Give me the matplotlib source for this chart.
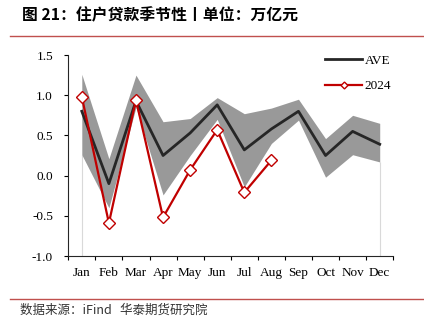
import numpy as np
import matplotlib
matplotlib.use("Agg")
import matplotlib.pyplot as plt
from matplotlib.lines import Line2D

months = ['Jan', 'Feb', 'Mar', 'Apr', 'May', 'Jun', 'Jul', 'Aug', 'Sep', 'Oct', 'Nov', 'Dec']
ave = [0.80, -0.10, 0.93, 0.25, 0.53, 0.88, 0.32, 0.58, 0.80, 0.25, 0.55, 0.39]
band_hi = [1.26, 0.21, 1.25, 0.67, 0.71, 0.97, 0.77, 0.84, 0.95, 0.46, 0.75, 0.65]
band_lo = [0.26, -0.40, 0.85, -0.24, 0.25, 0.70, -0.14, 0.40, 0.69, -0.02, 0.26, 0.17]
y2024 = [0.98, -0.59, 0.94, -0.52, 0.07, 0.57, -0.21, 0.19]

red = '#C00000'
serif = 'Liberation Serif'
cjk = ['Noto Sans CJK SC', 'DejaVu Sans']

fig = plt.figure(figsize=(4.24, 3.23), dpi=100)
ax = fig.add_axes([0.161, 0.2074, 0.7665, 0.6223])

x = np.arange(len(months))
x24 = np.arange(len(y2024))

ax.fill_between(x, band_lo, band_hi, color='#999999', lw=0, zorder=1)
ax.vlines([x[0], x[-1]], -1.0, [band_lo[0], band_lo[-1]], color='#d9d9d9', lw=0.8, zorder=0)
ax.plot(x, ave, color='#262626', lw=2.0, zorder=2)
ax.plot(x24, y2024, color=red, lw=1.6, marker='D', ms=6.5, mfc='white', mec=red, mew=1.0, zorder=3)

ax.set_xlim(-0.5, 11.5)
ax.set_ylim(-1.0, 1.5)
ax.set_yticks(np.arange(-1.0, 1.51, 0.5))
ax.set_yticklabels(['%.1f' % v for v in np.arange(-1.0, 1.51, 0.5)], family=serif, fontsize=9.5)
ax.set_xticks(x)
ax.set_xticklabels(months, family=serif, fontsize=9.5)
ax.set_xticks(np.arange(-0.5, 12, 1), minor=True)
ax.tick_params(axis='x', which='major', length=0, pad=8)
ax.tick_params(axis='x', which='minor', length=3, width=0.8, direction='out')
ax.tick_params(axis='y', length=3, width=0.8, direction='out', pad=8)

for s in ['top', 'right']:
    ax.spines[s].set_visible(False)
for s in ['left', 'bottom']:
    ax.spines[s].set_linewidth(0.8)
    ax.spines[s].set_color('#262626')

handles = [Line2D([], [], color='#262626', lw=2.0),
           Line2D([], [], color=red, lw=1.6, marker='D', ms=3.5, mfc='white', mec=red, mew=1.0)]
ax.legend(handles, ['AVE', '2024'], loc='upper right', bbox_to_anchor=(1.03, 1.06), frameon=False,
          prop={'family': serif, 'size': 9.5}, handlelength=2.8, handletextpad=0.2, labelspacing=1.0)

fig.text(0.052, 0.953, '图 21：住户贷款季节性丨单位：万亿元', family=cjk, fontsize=11.4,
         fontweight='bold', va='center', ha='left')
fig.add_artist(Line2D([0.024, 1.0], [0.888, 0.888], color='#C0504D', lw=1.0))
fig.add_artist(Line2D([0.024, 1.0], [0.074, 0.074], color='#C0504D', lw=1.0))
fig.text(0.047, 0.040, '数据来源：iFind   华泰期货研究院', family=cjk, fontsize=9,
         va='center', ha='left', color='#333333')

fig.savefig('out.png', dpi=100)
